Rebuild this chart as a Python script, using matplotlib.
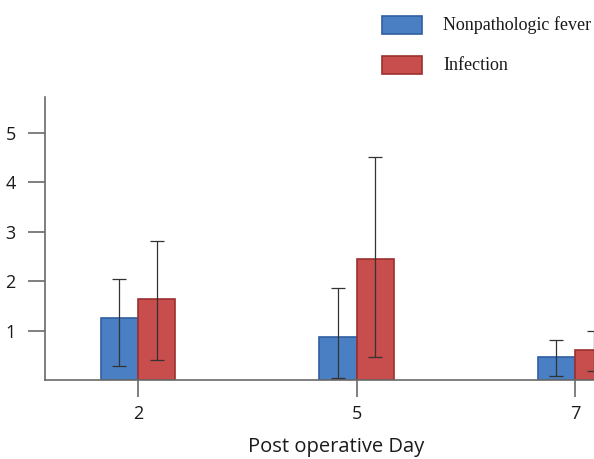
import matplotlib
matplotlib.use("Agg")
import matplotlib.pyplot as plt
import numpy as np
from matplotlib.patches import Rectangle

days = ["2", "5", "7"]
series_names = ["Nonpathologic fever", "Infection"]
fever_mean = [1.25, 0.87, 0.46]
fever_low = [0.28, 0.04, 0.08]
fever_high = [2.04, 1.86, 0.81]
infection_mean = [1.64, 2.44, 0.61]
infection_low = [0.40, 0.46, 0.18]
infection_high = [2.81, 4.51, 0.99]
yticks = [1, 2, 3, 4, 5]

blue_face, blue_edge = "#4a7fc4", "#2f5f9f"
red_face, red_edge = "#c84d4d", "#9c3030"

fig = plt.figure(figsize=(5.94, 4.59), dpi=100)
ax = fig.add_axes([45/594, 1-380/459, 1-45/594, (380-97)/459])

x = np.arange(len(days))
w = 0.17
spine_col = "#6a6a6a"

def draw(xpos, mean, lo, hi, face, edge):
    ax.bar(xpos, mean, width=w, color=face, edgecolor=edge, linewidth=1.2, zorder=2)
    m = np.array(mean); l = np.array(lo); h = np.array(hi)
    ax.errorbar(xpos, m, yerr=[m - l, h - m], fmt="none", ecolor="#333333",
                elinewidth=0.9, capsize=4.7, capthick=0.9, zorder=3)

draw(x - w/2, fever_mean, fever_low, fever_high, blue_face, blue_edge)
draw(x + w/2, infection_mean, infection_low, infection_high, red_face, red_edge)

ax.set_xlim(-(138-45)/218.5, (594-138)/218.5)
ax.set_ylim(0, 5.72)
ax.set_xticks(x)
ax.set_xticklabels(days)
ax.set_yticks(yticks)
for s in ["top", "right"]:
    ax.spines[s].set_visible(False)
for s in ["left", "bottom"]:
    ax.spines[s].set_color(spine_col)
    ax.spines[s].set_linewidth(1.2)
ax.tick_params(axis="both", direction="out", length=12, width=1.2, color=spine_col,
               labelsize=13, labelcolor="#1a1a1a")
ax.tick_params(axis="y", pad=9)
ax.tick_params(axis="x", pad=6)
for lab in ax.get_xticklabels() + ax.get_yticklabels():
    lab.set_fontfamily("Open Sans")
ax.set_xlabel("Post operative Day", fontsize=14.5, family="Open Sans", color="#1a1a1a", labelpad=12)
ax.xaxis.set_label_coords((336-45)/549, -(447-380)/283, transform=ax.transAxes)
ax.xaxis.label.set_va("center")

# legend
for i, (name, fc, ec) in enumerate(zip(series_names, [blue_face, red_face], [blue_edge, red_edge])):
    ytop = 16 + i*40
    fig.patches.append(Rectangle((382/594, 1-(ytop+18)/459), 40/594, 18/459,
                                 transform=fig.transFigure, facecolor=fc, edgecolor=ec, linewidth=1.2))
    fig.text(443/594, 1-(ytop+9)/459, name, family="Liberation Serif", fontsize=13,
             va="center", ha="left", color="#1a1a1a")

fig.savefig("out.png", dpi=100)
